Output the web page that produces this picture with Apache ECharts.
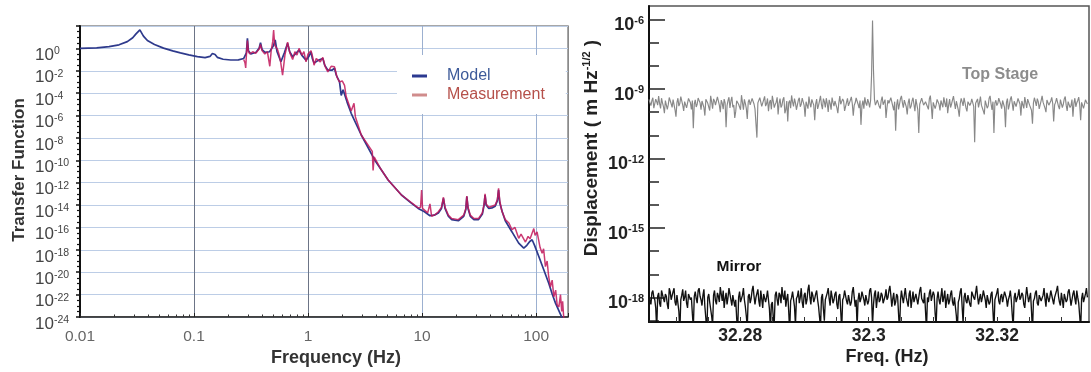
<!DOCTYPE html>
<html>
<head>
<meta charset="utf-8">
<script src="https://cdn.jsdelivr.net/npm/echarts@6/dist/echarts.min.js"></script>
<style>
  html, body { margin: 0; padding: 0; background: #fff; }
  #chart { width: 1091px; height: 372px; }
</style>
</head>
<body>
<div id="chart"></div>
<script>
// ---- Suspension transfer function: frequency (Hz) and log10 of the magnitude ----
const modelFreq = [
  0.01, 0.014, 0.018, 0.022, 0.026, 0.029, 0.031, 0.0335, 0.036, 0.039, 0.045, 0.054,
  0.065, 0.076, 0.09, 0.107, 0.125, 0.138, 0.145, 0.149, 0.153, 0.16, 0.18, 0.21,
  0.245, 0.273, 0.288, 0.294, 0.300, 0.315, 0.35, 0.372, 0.383, 0.395, 0.42, 0.46,
  0.495, 0.515, 0.535, 0.578, 0.62, 0.662, 0.69, 0.733, 0.79, 0.834, 0.88, 0.96,
  1.02, 1.062, 1.09, 1.129, 1.24, 1.348, 1.40, 1.492, 1.62, 1.707, 1.77, 1.888,
  1.954, 2.03, 2.09, 2.2, 2.39, 2.93, 3.84, 5.04, 6.6, 8.0, 9.26, 10.5,
  11.73, 12.8, 13.9, 14.8, 15.4, 15.9, 17.0, 18.2, 20.8, 23.2, 24.2, 24.7,
  25.3, 26.5, 28.5, 31.3, 33.8, 35.0, 35.7, 36.5, 38.5, 41.0, 43.8, 45.8,
  46.9, 48.0, 50.5, 53.7, 61.5, 70.4, 78.0, 83.0, 88.0, 92.3, 97.0, 105.7,
  117, 129.4, 138, 148, 158, 169.5
];
const modelLogTF = [
  0.0, 0.05, 0.15, 0.32, 0.6, 0.95, 1.3, 1.65, 1.1, 0.7, 0.35, 0.02,
  -0.22, -0.4, -0.58, -0.74, -0.82, -0.72, -0.45, -0.28, -0.55, -0.8, -0.97, -1.04,
  -1.02, -0.9, -0.4, 0.9, -0.2, -0.5, -0.35, 0.0, 0.5, -0.1, -0.35, -0.3,
  0.2, 0.75, -0.3, -1.2, -0.4, 0.45, -0.3, -0.75, -0.4, -0.15, -0.6, -1.05,
  -0.7, -0.3, -0.9, -1.3, -1.05, -0.9, -1.5, -1.95, -1.95, -1.78, -2.4, -3.0,
  -4.2, -3.7, -3.75, -4.8, -5.8, -7.74, -9.97, -11.76, -13.1, -13.8, -14.3, -14.6,
  -14.95, -14.9, -14.7, -14.3, -13.4, -14.3, -15.0, -15.3, -15.4, -15.0, -14.4, -13.25,
  -14.3, -15.0, -15.3, -15.3, -14.8, -14.0, -13.1, -14.0, -14.3, -14.25, -14.1, -13.6,
  -12.65, -13.8, -14.6, -15.4, -16.4, -17.4, -17.85, -17.6, -17.25, -17.1, -17.6, -18.6,
  -19.8, -21.0, -21.9, -22.76, -23.4, -24.1
];
const measFreq = [
  0.273, 0.280, 0.284, 0.288, 0.294, 0.300, 0.308, 0.327, 0.348, 0.372, 0.383, 0.395,
  0.418, 0.44, 0.462, 0.475, 0.490, 0.499, 0.510, 0.523, 0.540, 0.555, 0.575, 0.598,
  0.627, 0.662, 0.693, 0.733, 0.767, 0.80, 0.834, 0.885, 0.92, 0.96, 1.0, 1.062,
  1.10, 1.129, 1.18, 1.224, 1.28, 1.348, 1.41, 1.492, 1.596, 1.707, 1.80, 1.888,
  1.995, 2.09, 2.16, 2.39, 2.53, 2.60, 2.93, 3.66, 3.72, 3.80, 4.3, 5.04,
  6.6, 8.0, 9.26, 9.7, 9.91, 10.1, 11.2, 11.73, 12.13, 13.0, 13.9, 14.8,
  15.4, 15.9, 17.0, 18.2, 20.8, 23.2, 24.2, 24.7, 25.3, 26.5, 28.5, 31.3,
  33.8, 35.0, 35.7, 36.5, 38.5, 41.0, 43.8, 45.8, 46.9, 48.0, 50.0, 53.7,
  57.8, 61.5, 65.3, 70.4, 73.8, 80.7, 85.1, 88.6, 95.5, 98, 102, 108.5,
  113, 116.4, 120.8, 125, 129, 133.7, 138.4, 143.2, 148.5, 153, 158.5, 163.7,
  167.8, 171, 175.4
];
const measLogTF = [
  -1.0, -1.3, -1.75, -0.6, 0.7, -0.3, -0.5, -0.3, -0.45, -0.05, 0.35, -0.2,
  -0.5, -0.3, -1.6, -0.2, 0.6, 1.64, 0.3, 0.2, -0.1, -0.5, -1.2, -2.4,
  -0.6, 0.55, -0.4, -1.0, -0.3, -0.6, 0.0, -0.6, -0.3, -1.2, -0.5, -0.2,
  -0.8, -1.5, -0.9, -0.8, -1.2, -0.8, -1.6, -2.1, -1.6, -1.65, -2.6, -3.0,
  -2.9, -3.3, -4.3, -5.6, -4.9, -6.1, -7.74, -9.2, -10.9, -9.7, -10.7, -11.76,
  -13.1, -13.75, -14.25, -14.2, -12.65, -14.3, -14.7, -13.9, -15.0, -14.85, -14.6, -14.2,
  -13.3, -14.2, -14.9, -15.2, -15.3, -14.9, -14.3, -13.2, -14.2, -14.9, -15.2, -15.2,
  -14.7, -13.9, -13.0, -13.9, -14.2, -14.1, -14.0, -13.5, -12.5, -13.6, -14.5, -15.3,
  -15.6, -16.2, -16.0, -16.97, -16.6, -17.3, -16.8, -17.0, -16.1, -16.7, -16.4, -17.8,
  -18.3, -17.9, -19.5, -19.0, -20.4, -21.3, -20.7, -22.2, -21.6, -22.9, -23.1, -22.0,
  -23.5, -22.6, -24.3
];
const freqDecades = [-2, -1, 0, 1, 2];
const freqTickLabels = ['0.01', '0.1', '1', '10', '100'];
const freqMinorTicks = [
  -1.699, -1.523, -1.398, -1.301, -1.222, -1.155, -1.097, -1.046,
  -0.699, -0.523, -0.398, -0.301, -0.222, -0.155, -0.097, -0.046,
  0.301, 0.477, 0.602, 0.699, 0.778, 0.845, 0.903, 0.954,
  1.301, 1.477, 1.602, 1.699, 1.778, 1.845, 1.903, 1.954
];

// ---- Displacement spectra around the 32.3 Hz line (log10 of m/sqrt(Hz)) ----
const specFreqStart = 32.2658;
const specFreqStep = 0.00015;
const topStageLog = [
  -9.45, -9.6, -9.72, -9.5, -9.38, -9.83, -9.9, -9.44, -9.55, -9.7, -9.31, -9.62,
  -9.84, -9.4, -9.6, -9.76, -10.05, -9.5, -9.42, -9.88, -9.68, -9.37, -9.35, -9.64,
  -9.8, -9.46, -9.52, -9.9, -10.2, -9.58, -9.4, -9.74, -9.63, -9.33, -9.29, -9.7,
  -9.95, -9.55, -9.5, -9.82, -9.74, -9.41, -9.36, -9.6, -9.88, -9.5, -10.7, -9.65,
  -9.47, -9.78, -9.66, -9.39, -9.33, -9.6, -9.9, -9.52, -9.58, -9.8, -10.15, -9.45,
  -9.41, -9.62, -9.7, -9.93, -9.3, -9.55, -9.85, -9.43, -9.52, -9.7, -9.76, -9.34,
  -9.39, -9.7, -10.0, -9.48, -9.61, -9.87, -9.44, -9.6, -10.65, -9.72, -9.5, -9.36,
  -9.82, -9.53, -9.34, -9.79, -9.69, -10.25, -9.97, -9.51, -9.43, -9.66, -9.58, -9.9,
  -9.27, -9.58, -9.9, -9.45, -9.62, -9.84, -10.3, -9.56, -9.46, -9.69, -9.73, -9.41,
  -9.35, -9.65, -9.86, -9.92, -11.1, -9.6, -9.55, -9.38, -9.4, -9.75, -9.78, -9.47,
  -9.32, -9.74, -9.64, -9.41, -9.96, -9.58, -9.48, -9.88, -9.3, -9.54, -9.81, -9.67,
  -9.57, -9.36, -10.1, -9.62, -9.42, -9.8, -9.7, -9.46, -9.36, -10.05, -9.89, -9.52,
  -10.4, -9.6, -9.5, -9.83, -9.28, -9.56, -9.75, -9.42, -9.6, -9.9, -9.94, -9.48,
  -9.38, -9.77, -9.66, -9.4, -9.45, -9.71, -10.2, -9.55, -9.53, -9.85, -9.33, -9.62,
  -9.79, -9.45, -9.58, -9.7, -10.35, -9.64, -9.44, -9.86, -9.71, -9.5, -9.3, -9.68,
  -9.87, -9.42, -9.55, -9.8, -9.4, -9.63, -9.99, -9.47, -9.62, -9.9, -9.37, -9.58,
  -9.74, -9.52, -9.47, -9.82, -10.05, -9.6, -9.31, -9.66, -9.68, -9.43, -9.52, -9.95,
  -9.9, -9.58, -9.41, -9.73, -9.77, -9.48, -9.34, -9.64, -10.15, -9.7, -9.6, -9.39,
  -9.45, -9.66, -9.83, -9.5, -10.55, -9.72, -9.5, -9.85, -9.36, -9.61, -9.72, -9.44,
  -9.58, -9.8, -9.5, -8.4, -6.05, -8.2, -9.45, -9.7, -9.62, -9.48, -9.4, -9.76,
  -9.85, -9.5, -9.33, -9.68, -9.7, -9.46, -10.25, -9.8, -9.48, -9.62, -9.6, -9.38,
  -9.35, -9.74, -9.92, -9.55, -10.8, -9.7, -9.45, -9.88, -9.66, -9.42, -9.3, -9.6,
  -9.81, -9.48, -9.55, -9.77, -10.1, -9.6, -9.42, -9.84, -9.75, -9.52, -9.38, -9.67,
  -9.96, -9.44, -9.5, -9.9, -10.9, -9.66, -9.6, -9.4, -9.34, -9.7, -9.72, -9.55,
  -9.47, -9.63, -9.88, -9.42, -9.29, -9.74, -10.3, -9.58, -9.57, -9.85, -9.69, -9.45,
  -9.4, -9.66, -9.93, -9.5, -9.52, -9.79, -9.36, -9.6, -9.78, -9.41, -10.05, -9.7,
  -9.44, -9.8, -9.65, -9.47, -9.31, -9.6, -9.86, -9.53, -9.58, -9.9, -10.2, -9.64,
  -9.41, -9.56, -9.73, -9.38, -9.35, -9.82, -9.97, -9.55, -9.5, -9.71, -9.62, -9.43,
  -9.38, -9.75, -11.3, -9.62, -9.55, -9.43, -9.8, -9.58, -9.33, -9.7, -9.68, -9.95,
  -10.1, -9.5, -9.46, -9.83, -9.74, -9.4, -9.3, -9.64, -9.9, -9.55, -10.9, -9.6,
  -9.49, -9.72, -9.63, -9.4, -9.37, -9.66, -9.85, -9.5, -9.56, -9.8, -10.65, -9.58,
  -9.42, -9.88, -9.7, -9.45, -9.32, -9.62, -9.94, -9.53, -9.51, -9.76, -9.77, -9.41,
  -9.4, -9.65, -10.15, -9.52, -9.6, -9.84, -9.35, -9.58, -9.82, -9.44, -9.47, -9.7,
  -9.69, -9.92, -10.5, -9.6, -9.38, -9.55, -9.73, -9.42, -9.55, -9.86, -9.91, -9.5,
  -9.3, -9.57, -9.64, -9.83, -10.0, -9.48, -9.45, -9.7, -9.78, -9.52, -9.36, -9.62,
  -10.4, -9.68, -9.58, -9.4, -9.42, -9.75, -9.87, -9.46, -9.5, -9.81, -9.66, -9.43,
  -9.33, -9.7, -9.95, -9.55, -9.48, -9.8, -9.71, -9.46, -10.2, -9.62, -9.4, -9.77,
  -9.6, -9.5, -9.35, -9.68, -10.35, -9.58, -9.52, -9.84, -9.8, -9.47, -9.44, -9.65
];
const mirrorLog = [
  -17.9, -18.15, -18.3, -17.8, -17.7, -18.0, -18.1, -18.45, -19.4, -17.95, -17.8, -18.25,
  -18.4, -17.7, -17.65, -18.05, -18.2, -17.85, -17.95, -18.3, -18.5, -17.6, -17.75, -18.1,
  -18.05, -17.75, -17.6, -18.2, -18.35, -17.9, -17.85, -18.6, -19.5, -18.1, -17.9, -17.65,
  -18.15, -18.0, -17.7, -18.25, -18.45, -17.85, -17.8, -18.1, -18.0, -18.7, -19.3, -17.95,
  -17.75, -18.05, -18.25, -17.7, -17.6, -17.95, -18.1, -18.35, -17.9, -17.65, -18.4, -18.9,
  -19.6, -18.0, -17.85, -18.2, -18.2, -18.8, -19.2, -17.9, -17.7, -18.15, -18.3, -17.8,
  -17.95, -18.2, -17.55, -17.85, -18.15, -17.7, -18.45, -18.05, -17.8, -18.3, -18.0, -17.6,
  -17.65, -18.1, -18.35, -17.9, -17.9, -18.4, -18.1, -18.9, -19.5, -18.0, -17.75, -18.2,
  -18.2, -17.9, -17.6, -18.1, -18.4, -18.8, -19.3, -17.95, -17.85, -18.25, -18.05, -17.7,
  -17.5, -17.95, -18.3, -18.0, -17.95, -17.65, -18.15, -18.4, -17.7, -18.05, -18.45, -17.85,
  -17.8, -18.2, -18.0, -17.7, -17.65, -18.5, -19.4, -18.3, -18.2, -18.9, -19.1, -17.9,
  -17.75, -18.1, -18.35, -17.8, -17.9, -18.25, -17.55, -17.95, -18.1, -17.7, -18.4, -18.05,
  -17.85, -18.6, -19.5, -18.15, -18.0, -17.75, -17.7, -18.4, -19.2, -18.05, -17.95, -17.7,
  -18.25, -18.0, -17.6, -18.2, -18.45, -17.9, -17.8, -18.3, -18.1, -17.65, -17.45, -18.0,
  -18.3, -17.75, -17.9, -18.2, -18.05, -17.85, -17.7, -18.1, -18.4, -18.85, -19.3, -18.0,
  -17.85, -18.5, -19.0, -18.1, -18.15, -17.8, -17.6, -18.05, -18.35, -17.7, -17.95, -18.25,
  -18.1, -17.85, -17.75, -18.3, -18.5, -17.95, -17.85, -18.6, -19.4, -18.1, -18.0, -17.7,
  -17.65, -18.15, -18.3, -17.9, -17.9, -18.35, -18.2, -17.75, -17.55, -18.0, -18.4, -18.1,
  -19.3, -18.1, -17.8, -18.2, -18.05, -17.75, -17.7, -18.1, -18.35, -17.9, -17.95, -18.3,
  -18.15, -17.7, -17.6, -18.0, -19.2, -18.3, -17.85, -17.7, -18.45, -18.05, -17.75, -18.2,
  -18.1, -17.8, -17.9, -18.25, -18.3, -17.95, -17.65, -18.1, -18.0, -17.7, -17.5, -17.9,
  -18.4, -18.05, -17.8, -18.35, -18.2, -17.85, -17.95, -18.7, -19.5, -18.15, -17.7, -18.0,
  -18.25, -17.9, -17.6, -18.0, -18.05, -18.4, -17.85, -17.7, -18.45, -18.1, -17.75, -18.2,
  -18.15, -17.85, -17.9, -18.3, -18.35, -17.7, -17.55, -18.05, -18.0, -18.25, -17.8, -18.6,
  -19.4, -18.0, -18.2, -17.8, -17.65, -18.15, -18.1, -17.75, -17.9, -18.7, -19.2, -18.05,
  -17.75, -18.1, -18.3, -17.95, -17.6, -18.2, -18.0, -17.7, -18.45, -18.1, -17.85, -18.3,
  -18.15, -17.85, -17.7, -18.2, -18.35, -18.0, -17.95, -18.8, -19.5, -18.2, -18.05, -17.75,
  -17.6, -18.4, -19.1, -18.0, -17.8, -18.15, -18.25, -17.9, -17.9, -18.3, -18.4, -17.75,
  -17.7, -18.0, -18.1, -17.8, -17.5, -17.95, -18.3, -18.05, -17.85, -18.2, -18.0, -17.7,
  -17.65, -18.1, -18.45, -17.9, -17.9, -18.3, -18.2, -17.85, -17.75, -18.6, -19.4, -18.1,
  -18.05, -17.8, -17.6, -18.15, -18.3, -17.95, -17.85, -18.2, -18.15, -17.75, -17.7, -18.05,
  -18.4, -18.1, -17.95, -17.7, -18.1, -18.75, -19.3, -18.0, -17.8, -18.2, -18.25, -17.9,
  -17.65, -18.1, -18.0, -17.8, -17.9, -18.3, -18.45, -17.95, -17.55, -17.9, -18.2, -18.0,
  -17.8, -18.6, -19.5, -18.15, -18.05, -17.8, -17.7, -18.25, -18.35, -17.9, -17.9, -18.15,
  -18.15, -17.9, -17.6, -18.05, -18.4, -17.8, -17.85, -18.2, -18.0, -17.7, -17.75, -18.1,
  -18.3, -18.0, -17.95, -17.7, -17.5, -17.95, -18.2, -18.35, -17.8, -18.1, -18.45, -17.85,
  -17.9, -18.2, -18.1, -17.75, -17.65, -18.0, -18.35, -18.1, -17.85, -17.7, -18.05, -18.3,
  -17.7, -18.0, -18.25, -18.8, -19.4, -18.05, -17.8, -18.2, -18.15, -17.85, -17.6, -18.0
];
const specFreqTicks = [32.28, 32.3, 32.32];
const specFreqTickLabels = ['32.28', '32.3', '32.32'];
const specMinorTicks = [32.27, 32.275, 32.28, 32.285, 32.29, 32.295, 32.3, 32.305,
  32.31, 32.315, 32.32, 32.325, 32.33];
const dispDecades = [-18, -15, -12, -9, -6];
const dispMinorDecades = [-19, -18, -17, -16, -15, -14, -13, -12, -11, -10, -9, -8, -7, -6];

const FONT = '"Liberation Sans", Arial, sans-serif';

const modelData = modelFreq.map((f, i) => [Math.log10(f), modelLogTF[i]]);
const measData = measFreq.map((f, i) => [Math.log10(f), measLogTF[i]]);
const topStageData = topStageLog.map((v, i) => [specFreqStart + i * specFreqStep, v]);
const mirrorData = mirrorLog.map((v, i) => [specFreqStart + i * specFreqStep, v]);

const chart = echarts.init(document.getElementById('chart'), null, { renderer: 'canvas' });

chart.setOption({
  backgroundColor: '#ffffff',
  animation: false,
  textStyle: { fontFamily: FONT },
  grid: [
    { left: 80, top: 26, width: 488, height: 291, show: true, borderColor: '#8a8a8a', borderWidth: 1.5, backgroundColor: 'transparent' },
    { left: 649, top: 6, width: 440, height: 316, show: true, borderColor: '#555', borderWidth: 1.5, backgroundColor: 'transparent' }
  ],
  legend: {
    orient: 'vertical',
    left: 397,
    top: 55,
    backgroundColor: '#ffffff',
    padding: [12, 21, 10, 15],
    itemWidth: 15,
    itemHeight: 3,
    itemGap: 1,
    selectedMode: false,
    textStyle: { fontSize: 16, lineHeight: 18, fontFamily: FONT, padding: [0, 0, 0, 15] },
    data: [
      { name: 'Model', icon: 'rect', itemStyle: { color: '#2b3990' }, textStyle: { color: '#3d5a99' } },
      { name: 'Measurement', icon: 'rect', itemStyle: { color: '#d08c8c' }, textStyle: { color: '#b5504a' } }
    ]
  },
  xAxis: [
    {
      gridIndex: 0, type: 'value', min: -2, max: 2.28, interval: 1, position: 'bottom',
      axisLine: { onZero: false, lineStyle: { color: '#222', width: 1.5 } },
      axisTick: { show: true, inside: true, length: 4, lineStyle: { color: '#222' } },
      axisLabel: {
        color: '#666', fontSize: 15.5, margin: 12, fontFamily: FONT,
        formatter: v => { const i = freqDecades.indexOf(v); return i >= 0 ? freqTickLabels[i] : ''; }
      },
      // decade lines: darker below 1 Hz, lighter blue above
      splitLine: { show: true, lineStyle: { color: ['#666', '#6c7486', '#6c7486', '#9cb0d0', '#9cb0d0', '#8a8a8a'], width: 1 } }
    },
    {
      gridIndex: 0, type: 'value', min: -2, max: 2.28, position: 'bottom',
      axisLine: { show: false, onZero: false },
      axisLabel: { show: false },
      splitLine: { show: false },
      axisTick: { show: true, inside: true, length: 2.5, customValues: freqMinorTicks, lineStyle: { color: '#333' } }
    },
    {
      gridIndex: 1, type: 'value', min: 32.2658, max: 32.3343, position: 'bottom',
      axisLine: { onZero: false, lineStyle: { color: '#111', width: 2 } },
      axisTick: { show: true, inside: true, length: 5, customValues: specMinorTicks, lineStyle: { color: '#333' } },
      axisLabel: {
        customValues: specFreqTicks, color: '#222', fontSize: 17.5, fontWeight: 'bold', margin: 5, fontFamily: FONT,
        formatter: v => { const i = specFreqTicks.indexOf(v); return i >= 0 ? specFreqTickLabels[i] : ''; }
      },
      splitLine: { show: false }
    }
  ],
  yAxis: [
    {
      gridIndex: 0, type: 'value', min: -24, max: 2, interval: 2, position: 'left',
      axisLine: { onZero: false, lineStyle: { color: '#111', width: 2 } },
      axisTick: { show: true, length: 4, lineStyle: { color: '#111', width: 1.5 } },
      minorTick: { show: true, splitNumber: 4, length: 3, lineStyle: { color: '#111', width: 1.2 } },
      axisLabel: {
        align: 'left', margin: 45, padding: [14, 0, 0, 0], fontFamily: FONT,
        formatter: v => (v === 2 ? '' : '{a|10}{b|' + v + '}'),
        rich: {
          a: { fontSize: 17, color: '#444', lineHeight: 19, fontFamily: FONT },
          b: { fontSize: 10.5, color: '#444', verticalAlign: 'top', lineHeight: 10, fontFamily: FONT }
        }
      },
      splitLine: { show: true, lineStyle: { color: '#bccde6', width: 1 } }
    },
    {
      gridIndex: 1, type: 'value', min: -19.06, max: -5.42, position: 'left',
      axisLine: { onZero: false, lineStyle: { color: '#111', width: 2 } },
      axisTick: { show: true, inside: true, length: 16, customValues: dispDecades, lineStyle: { color: '#222', width: 1.5 } },
      axisLabel: {
        customValues: dispDecades, margin: 5, padding: [12, 0, 0, 0], fontFamily: FONT,
        formatter: v => '{a|10}{b|' + v + '}',
        rich: {
          a: { fontSize: 18, fontWeight: 'bold', color: '#222', lineHeight: 20, fontFamily: FONT },
          b: { fontSize: 11, fontWeight: 'bold', color: '#222', verticalAlign: 'top', lineHeight: 10, fontFamily: FONT }
        }
      },
      splitLine: { show: false }
    },
    {
      gridIndex: 1, type: 'value', min: -19.06, max: -5.42, position: 'left',
      axisLine: { show: false, onZero: false },
      axisLabel: { show: false },
      splitLine: { show: false },
      axisTick: { show: true, inside: true, length: 10, customValues: dispMinorDecades, lineStyle: { color: '#222', width: 1.5 } }
    }
  ],
  series: [
    {
      name: 'Model', type: 'line', xAxisIndex: 0, yAxisIndex: 0, data: modelData,
      showSymbol: false, clip: true, z: 3,
      lineStyle: { color: '#2e3a8c', width: 1.7 }, itemStyle: { color: '#2b3990' }
    },
    {
      name: 'Measurement', type: 'line', xAxisIndex: 0, yAxisIndex: 0, data: measData,
      showSymbol: false, clip: true, z: 4,
      lineStyle: { color: '#c2185b', width: 1.5, opacity: 0.85 }, itemStyle: { color: '#d08c8c' }
    },
    {
      name: 'Top Stage', type: 'line', xAxisIndex: 2, yAxisIndex: 1, data: topStageData,
      showSymbol: false, clip: true,
      lineStyle: { color: '#888888', width: 1.15 }
    },
    {
      name: 'Mirror', type: 'line', xAxisIndex: 2, yAxisIndex: 1, data: mirrorData,
      showSymbol: false, clip: true,
      lineStyle: { color: '#111111', width: 1.35 }
    }
  ],
  graphic: [
    {
      type: 'text', x: 19, y: 170, rotation: Math.PI / 2,
      style: { text: 'Transfer Function', fontSize: 17, fontWeight: 'bold', fill: '#333', align: 'center', verticalAlign: 'middle', fontFamily: FONT }
    },
    {
      type: 'text', x: 336, y: 358,
      style: { text: 'Frequency (Hz)', fontSize: 18, fontWeight: 'bold', fill: '#333', align: 'center', verticalAlign: 'middle', fontFamily: FONT }
    },
    {
      type: 'text', x: 592, y: 148, rotation: Math.PI / 2,
      style: {
        text: '{t|Displacement ( m Hz}{s|-1/2}{t| )}', align: 'center', verticalAlign: 'middle',
        rich: {
          t: { fontSize: 19, fontWeight: 'bold', fill: '#222', lineHeight: 21, fontFamily: FONT },
          s: { fontSize: 11, fontWeight: 'bold', fill: '#222', verticalAlign: 'top', lineHeight: 10, fontFamily: FONT }
        }
      }
    },
    {
      type: 'text', x: 887, y: 357,
      style: { text: 'Freq. (Hz)', fontSize: 18, fontWeight: 'bold', fill: '#222', align: 'center', verticalAlign: 'middle', fontFamily: FONT }
    },
    {
      type: 'text', x: 1000, y: 75,
      style: { text: 'Top Stage', fontSize: 16, fontWeight: 'bold', fill: '#8c8c8c', align: 'center', verticalAlign: 'middle', fontFamily: FONT }
    },
    {
      type: 'text', x: 739, y: 267,
      style: { text: 'Mirror', fontSize: 15.5, fontWeight: 'bold', fill: '#111', align: 'center', verticalAlign: 'middle', fontFamily: FONT }
    }
  ]
});
</script>
</body>
</html>
